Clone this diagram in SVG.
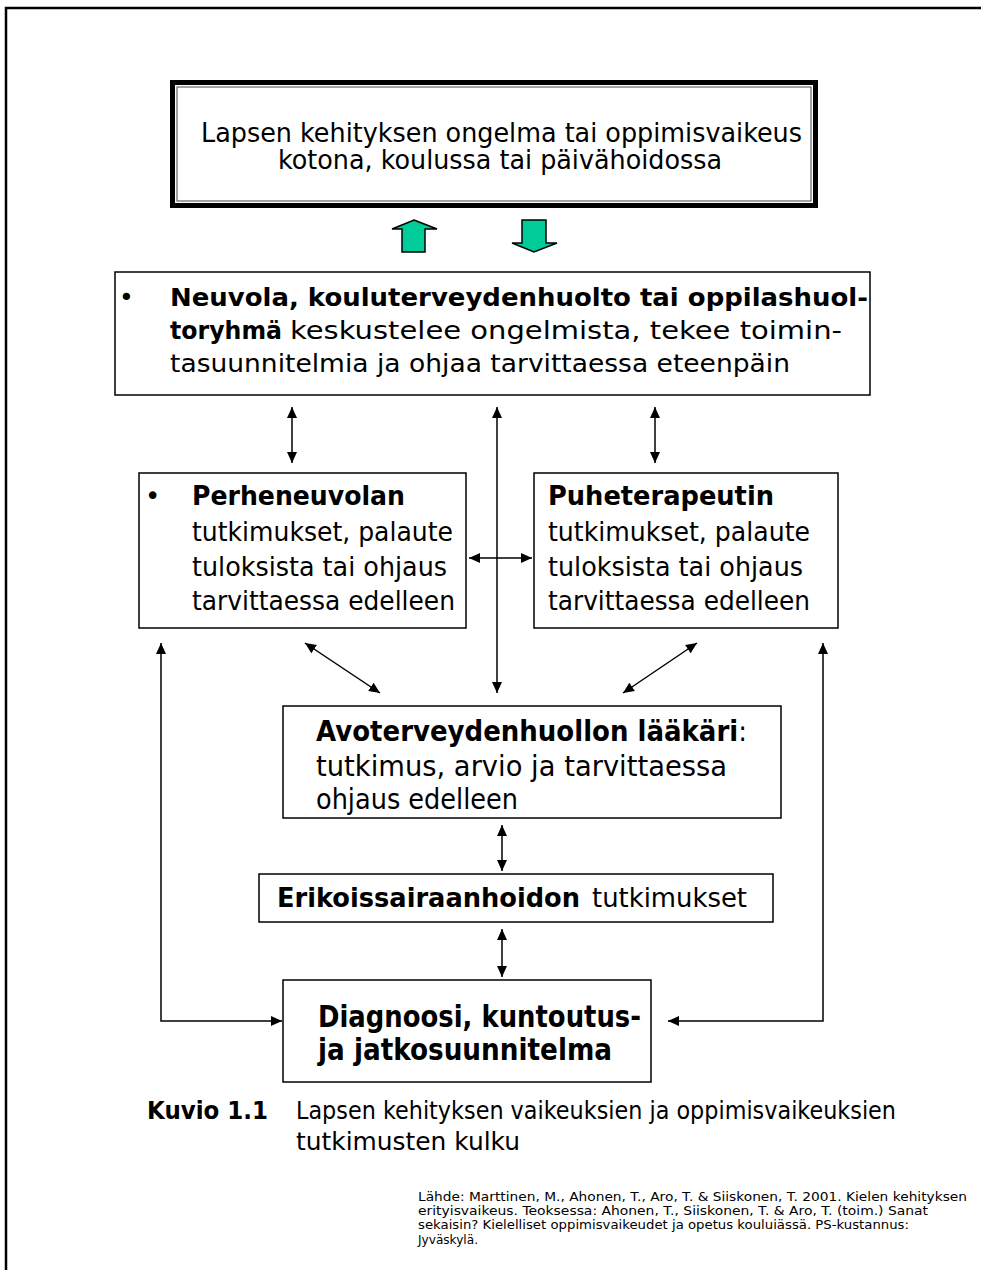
<svg xmlns="http://www.w3.org/2000/svg" width="981" height="1270" viewBox="0 0 981 1270">
<style>
.t{font-family:"DejaVu Sans","Liberation Sans",sans-serif;fill:#000}
.b{font-weight:bold}
.box{fill:#fff;stroke:#000;stroke-width:1.5}
.c{fill:none;stroke:#000;stroke-width:1.5}
.src{font-family:"DejaVu Sans","Liberation Sans",sans-serif;font-size:12.5px;fill:#000}
.g{fill:#00CC99;stroke:#000;stroke-width:1.5}
</style>
<defs>
<marker id="ah" markerUnits="userSpaceOnUse" markerWidth="12" markerHeight="10" refX="11" refY="5" orient="auto-start-reverse">
<path d="M0,0 L11,5 L0,10 z" fill="#000"/>
</marker>
</defs>
<rect width="981" height="1270" fill="#fff"/>
<path d="M6,1275 V8 H990" fill="none" stroke="#000" stroke-width="2.5"/>

<g id="top">
<rect x="172.5" y="82.5" width="643" height="123" fill="#fff" stroke="#000" stroke-width="5"/>
<rect x="177" y="87" width="634" height="114" fill="none" stroke="#666" stroke-width="1.2"/>
<text class="t" font-size="26" x="201" y="142" textLength="601" lengthAdjust="spacingAndGlyphs">Lapsen kehityksen ongelma tai oppimisvaikeus</text>
<text class="t" font-size="26" x="278" y="169" textLength="444" lengthAdjust="spacingAndGlyphs">kotona, koulussa tai päivähoidossa</text>
</g>

<g id="greenarrows">
<polygon class="g" points="414,220 437,229 425,229 425,252 402,252 402,229 392,229"/>
<polygon class="g" points="522,220 546,220 546,243 557,243 534,252 512,243 522,243"/>
</g>

<g id="neuvola">
<rect class="box" x="115" y="272" width="755" height="123"/>
<text class="t" font-size="25" x="119" y="306">•</text>
<text class="t b" font-size="25" x="170" y="306" textLength="698" lengthAdjust="spacingAndGlyphs">Neuvola, kouluterveydenhuolto tai oppilashuol-</text>
<text class="t" font-size="25" y="339"><tspan class="b" x="170" textLength="112" lengthAdjust="spacingAndGlyphs">toryhmä</tspan><tspan x="290" textLength="552" lengthAdjust="spacingAndGlyphs">keskustelee ongelmista, tekee toimin-</tspan></text>
<text class="t" font-size="25" x="170" y="372" textLength="620" lengthAdjust="spacingAndGlyphs">tasuunnitelmia ja ohjaa tarvittaessa eteenpäin</text>
</g>

<g id="perheneuvola">
<rect class="box" x="139" y="473" width="327" height="155"/>
<text class="t" font-size="26" x="145" y="505">•</text>
<text class="t b" font-size="26" x="192" y="505" textLength="213" lengthAdjust="spacingAndGlyphs">Perheneuvolan</text>
<text class="t" font-size="26" x="192" y="541" textLength="261" lengthAdjust="spacingAndGlyphs">tutkimukset, palaute</text>
<text class="t" font-size="26" x="192" y="576" textLength="255" lengthAdjust="spacingAndGlyphs">tuloksista tai ohjaus</text>
<text class="t" font-size="26" x="192" y="610" textLength="263" lengthAdjust="spacingAndGlyphs">tarvittaessa edelleen</text>
</g>

<g id="puheterapeutti">
<rect class="box" x="534" y="473" width="304" height="155"/>
<text class="t b" font-size="26" x="548" y="505" textLength="226" lengthAdjust="spacingAndGlyphs">Puheterapeutin</text>
<text class="t" font-size="26" x="548" y="541" textLength="262" lengthAdjust="spacingAndGlyphs">tutkimukset, palaute</text>
<text class="t" font-size="26" x="548" y="576" textLength="255" lengthAdjust="spacingAndGlyphs">tuloksista tai ohjaus</text>
<text class="t" font-size="26" x="548" y="610" textLength="262" lengthAdjust="spacingAndGlyphs">tarvittaessa edelleen</text>
</g>

<g id="avoterveydenhuolto">
<rect class="box" x="283" y="706" width="498" height="112"/>
<text class="t" font-size="28" transform="translate(316,741) scale(0.93,1)"><tspan class="b">Avoterveydenhuollon lääkäri</tspan>:</text>
<text class="t" font-size="28" x="316" y="776" textLength="411" lengthAdjust="spacingAndGlyphs">tutkimus, arvio ja tarvittaessa</text>
<text class="t" font-size="28" x="316" y="809" textLength="202" lengthAdjust="spacingAndGlyphs">ohjaus edelleen</text>
</g>

<g id="erikoissairaanhoito">
<rect class="box" x="259" y="874" width="514" height="48"/>
<text class="t" font-size="26" y="907"><tspan class="b" x="277" textLength="303" lengthAdjust="spacingAndGlyphs">Erikoissairaanhoidon</tspan><tspan x="592" textLength="155" lengthAdjust="spacingAndGlyphs">tutkimukset</tspan></text>
</g>

<g id="diagnoosi">
<rect class="box" x="283" y="980" width="368" height="102"/>
<text class="t b" font-size="30" x="318" y="1027" textLength="323" lengthAdjust="spacingAndGlyphs">Diagnoosi, kuntoutus-</text>
<text class="t b" font-size="30" x="318" y="1060" textLength="294" lengthAdjust="spacingAndGlyphs">ja jatkosuunnitelma</text>
</g>

<g id="connectors">
<line class="c" x1="292" y1="407" x2="292" y2="463" marker-start="url(#ah)" marker-end="url(#ah)"/>
<line class="c" x1="655" y1="407" x2="655" y2="463" marker-start="url(#ah)" marker-end="url(#ah)"/>
<line class="c" x1="497" y1="407" x2="497" y2="693" marker-start="url(#ah)" marker-end="url(#ah)"/>
<line class="c" x1="469" y1="558" x2="532" y2="558" marker-start="url(#ah)" marker-end="url(#ah)"/>
<line class="c" x1="305" y1="643" x2="380" y2="693" marker-start="url(#ah)" marker-end="url(#ah)"/>
<line class="c" x1="697" y1="643" x2="623" y2="693" marker-start="url(#ah)" marker-end="url(#ah)"/>
<polyline class="c" points="161,643 161,1021 282,1021" marker-start="url(#ah)" marker-end="url(#ah)"/>
<polyline class="c" points="823,643 823,1021 668,1021" marker-start="url(#ah)" marker-end="url(#ah)"/>
<line class="c" x1="502" y1="825" x2="502" y2="871" marker-start="url(#ah)" marker-end="url(#ah)"/>
<line class="c" x1="502" y1="929" x2="502" y2="977" marker-start="url(#ah)" marker-end="url(#ah)"/>
</g>

<g id="caption">
<text class="t b" font-size="25" x="147" y="1119" textLength="121" lengthAdjust="spacingAndGlyphs">Kuvio 1.1</text>
<text class="t" font-size="25" x="296" y="1119" textLength="600" lengthAdjust="spacingAndGlyphs">Lapsen kehityksen vaikeuksien ja oppimisvaikeuksien</text>
<text class="t" font-size="25" x="296" y="1150" textLength="224" lengthAdjust="spacingAndGlyphs">tutkimusten kulku</text>
</g>

<g id="source">
<text class="src" x="418" y="1201" textLength="549" lengthAdjust="spacingAndGlyphs">Lähde: Marttinen, M., Ahonen, T., Aro, T. &amp; Siiskonen, T. 2001. Kielen kehityksen</text>
<text class="src" x="418" y="1215" textLength="510" lengthAdjust="spacingAndGlyphs">erityisvaikeus. Teoksessa: Ahonen, T., Siiskonen, T. &amp; Aro, T. (toim.) Sanat</text>
<text class="src" x="418" y="1229" textLength="491" lengthAdjust="spacingAndGlyphs">sekaisin? Kielelliset oppimisvaikeudet ja opetus kouluiässä. PS-kustannus:</text>
<text class="src" x="418" y="1244" textLength="60" lengthAdjust="spacingAndGlyphs">Jyväskylä.</text>
</g>
</svg>
